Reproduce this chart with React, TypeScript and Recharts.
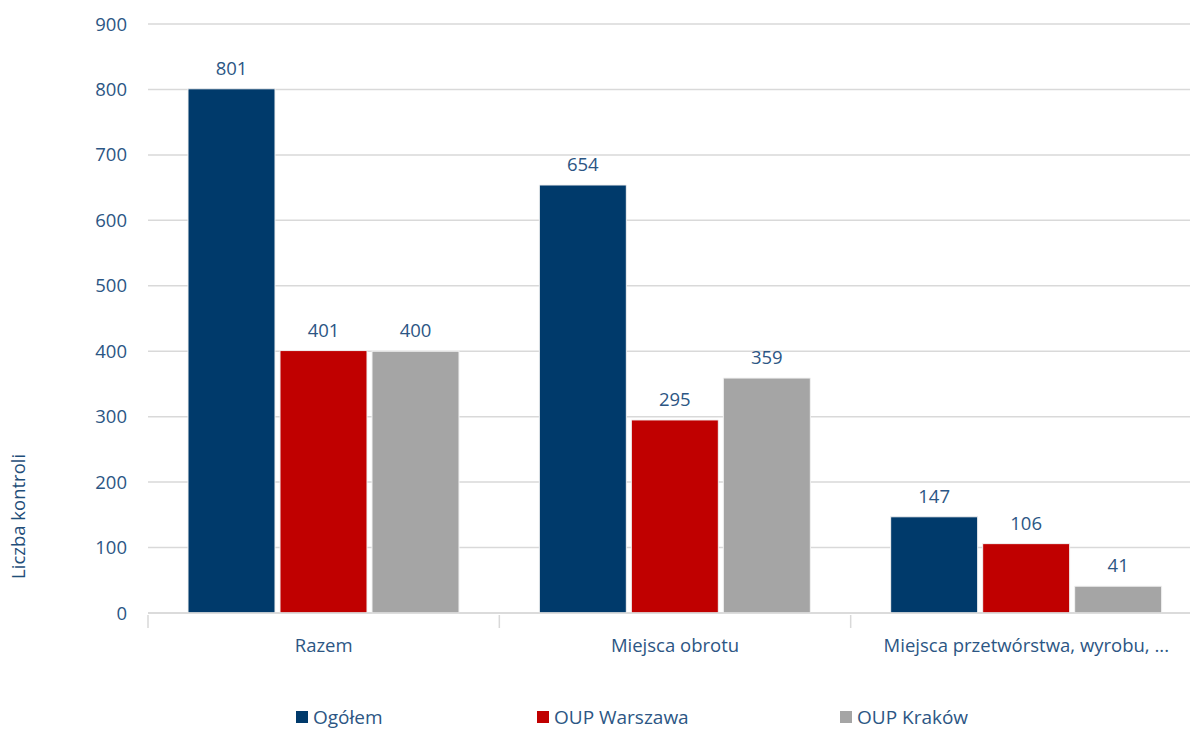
import React from "react";
import { BarChart, Bar, XAxis, YAxis, CartesianGrid, Legend, LabelList } from "recharts";

const categories = ["Razem", "Miejsca obrotu", "Miejsca przetwórstwa, wyrobu, ..."];
const ogolem = [801, 654, 147];
const warszawa = [401, 295, 106];
const krakow = [400, 359, 41];
const yTicks = [0, 100, 200, 300, 400, 500, 600, 700, 800, 900];

const seriesNames = ["Ogółem", "OUP Warszawa", "OUP Kraków"];
const colors = ["#003A6B", "#C00000", "#A5A5A5"];

const data = categories.map((c, i) => ({
  name: c,
  ogolem: ogolem[i],
  warszawa: warszawa[i],
  krakow: krakow[i],
}));

const FONT = "'Open Sans', 'Noto Sans', sans-serif";
const TEXT = "#2C5684";
const FS = 18.5;

const XTick = (props: any) => {
  const { x, y, payload, index, visibleTicksCount } = props;
  const off = payload.offset || 0;
  return (
    <g>
      <line x1={x - off} x2={x - off} y1={y - 6} y2={y + 7} stroke="#D9D9D9" strokeWidth={1.5} />
      {index === (visibleTicksCount ?? 3) - 1 && (
        <line x1={x + off} x2={x + off} y1={y - 6} y2={y + 7} stroke="#D9D9D9" strokeWidth={1.5} />
      )}
      <text x={x} y={y + 26} textAnchor="middle" dominantBaseline="middle" fill={TEXT} fontSize={FS} fontFamily={FONT}>
        {payload.value}
      </text>
    </g>
  );
};

const YLabel = (props: any) => {
  const vb = props.viewBox || { x: 0, y: 0, width: 0, height: 0 };
  const cx = vb.x + 20;
  const cy = vb.y + vb.height * 0.836;
  return (
    <text
      x={cx}
      y={cy}
      transform={`rotate(-90 ${cx} ${cy})`}
      textAnchor="middle"
      dominantBaseline="middle"
      fill="#1F4E79"
      fontSize={FS}
      fontFamily={FONT}
    >
      Liczba kontroli
    </text>
  );
};

const legendWidths = [241, 303, 200];

const LegendContent = () => (
  <div style={{ height: 36, paddingTop: 12, boxSizing: "border-box", display: "flex", marginLeft: 296, fontFamily: FONT, fontSize: 19, color: TEXT, lineHeight: "22px" }}>
    {seriesNames.map((n, i) => (
      <div key={n} style={{ display: "flex", alignItems: "center", width: legendWidths[i] }}>
        <span style={{ display: "inline-block", width: 12, height: 12, background: colors[i], marginRight: 5 }} />
        <span>{n}</span>
      </div>
    ))}
  </div>
);

export default function App() {
  return (
    <div style={{ position: "fixed", left: 0, top: 0, width: 1190, height: 729, overflow: "hidden", background: "#fff" }}>
      <BarChart
        width={1202}
        height={729}
        data={data}
        margin={{ top: 24, right: 0, left: 0, bottom: 0 }}
        barCategoryGap={40}
        barGap={5}
      >
        <CartesianGrid vertical={false} stroke="#D9D9D9" strokeWidth={1.5} />
        <XAxis
          dataKey="name"
          height={80}
          axisLine={{ stroke: "#D9D9D9", strokeWidth: 1.5 }}
          tickLine={false}
          tick={<XTick />}
          interval={0}
        />
        <YAxis
          width={148}
          domain={[0, 900]}
          ticks={yTicks}
          axisLine={false}
          tickLine={false}
          tickMargin={15}
          tick={{ fill: TEXT, fontSize: FS, fontFamily: FONT }}
          label={{ content: <YLabel /> }}
        />
        <Legend verticalAlign="bottom" content={<LegendContent />} />
        <Bar dataKey="ogolem" name={seriesNames[0]} fill={colors[0]} stroke="#F2F2F2" strokeWidth={1} isAnimationActive={false}>
          <LabelList dataKey="ogolem" position="top" offset={14} fill={TEXT} fontSize={FS} fontFamily={FONT} />
        </Bar>
        <Bar dataKey="warszawa" name={seriesNames[1]} fill={colors[1]} stroke="#F2F2F2" strokeWidth={1} isAnimationActive={false}>
          <LabelList dataKey="warszawa" position="top" offset={14} fill={TEXT} fontSize={FS} fontFamily={FONT} />
        </Bar>
        <Bar dataKey="krakow" name={seriesNames[2]} fill={colors[2]} stroke="#F2F2F2" strokeWidth={1} isAnimationActive={false}>
          <LabelList dataKey="krakow" position="top" offset={14} fill={TEXT} fontSize={FS} fontFamily={FONT} />
        </Bar>
      </BarChart>
    </div>
  );
}
